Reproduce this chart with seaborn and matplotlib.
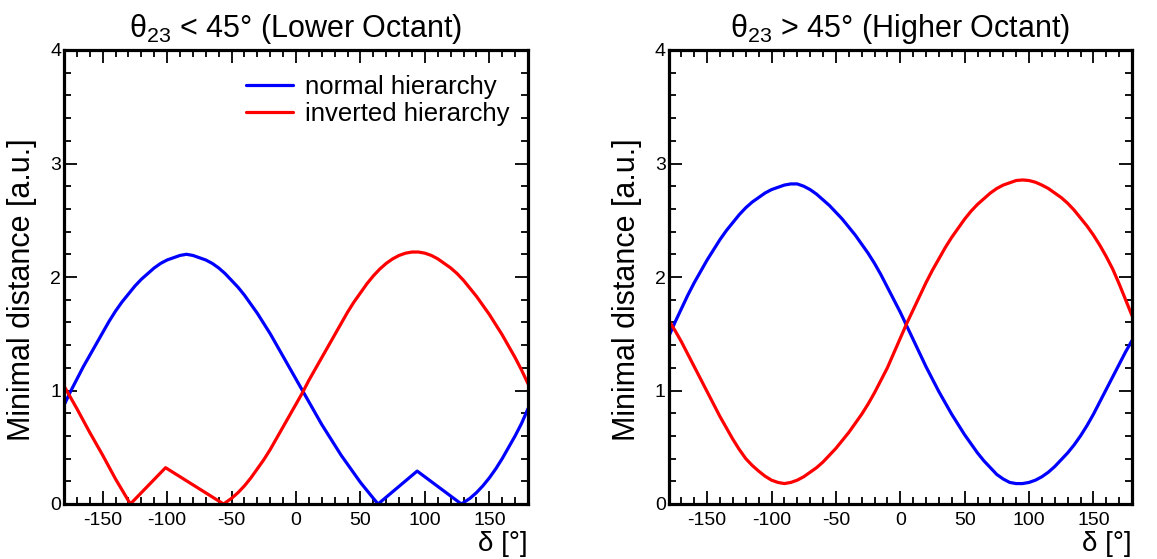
import matplotlib
matplotlib.use("Agg")
import matplotlib.pyplot as plt
from matplotlib.ticker import MultipleLocator
import pandas as pd
import seaborn as sns

# CP phase delta [deg] and minimal distance [a.u.], lower octant, normal hierarchy
lo_nh_delta = [-180, -175, -170, -165, -160, -155, -150, -145, -140, -135, -130, -125, -120,
               -115, -110, -105, -100, -95, -90, -85, -80, -75, -70, -65, -60, -55, -50, -45,
               -40, -35, -30, -25, -20, -15, -10, -5, 0, 5, 10, 15, 20, 25, 30, 35, 40, 45,
               50, 55, 60, 63.7, 94, 128.3, 135, 140, 145, 150, 155, 160, 165, 170, 175, 180]
lo_nh_dist = [0.87, 0.99, 1.10, 1.21, 1.31, 1.41, 1.51, 1.61, 1.70, 1.78, 1.85, 1.92, 1.98,
              2.03, 2.08, 2.12, 2.15, 2.17, 2.19, 2.20, 2.19, 2.17, 2.15, 2.12, 2.08, 2.03,
              1.97, 1.91, 1.84, 1.76, 1.68, 1.59, 1.50, 1.40, 1.30, 1.20, 1.10, 1.00, 0.90,
              0.80, 0.70, 0.61, 0.52, 0.43, 0.35, 0.27, 0.19, 0.12, 0.05, 0.0, 0.29, 0.0,
              0.05, 0.10, 0.16, 0.23, 0.31, 0.40, 0.50, 0.60, 0.71, 0.84]

# lower octant, inverted hierarchy
lo_ih_delta = [-180, -170, -160, -150, -140, -128.5, -101.2, -56.2, -50, -45, -40, -35, -30,
               -25, -20, -15, -10, -5, 0, 5, 10, 15, 20, 25, 30, 35, 40, 45, 50, 55, 60, 65,
               70, 75, 80, 85, 90, 95, 100, 105, 110, 115, 120, 125, 130, 135, 140, 145, 150,
               155, 160, 165, 170, 175, 180]
lo_ih_dist = [1.04, 0.84, 0.63, 0.43, 0.22, 0.0, 0.32, 0.0, 0.05, 0.10, 0.16, 0.23, 0.31,
              0.39, 0.48, 0.58, 0.68, 0.78, 0.88, 0.98, 1.09, 1.19, 1.29, 1.39, 1.49, 1.59,
              1.69, 1.78, 1.86, 1.94, 2.01, 2.07, 2.12, 2.16, 2.19, 2.21, 2.22, 2.22, 2.21,
              2.19, 2.16, 2.12, 2.08, 2.03, 1.97, 1.90, 1.83, 1.75, 1.67, 1.58, 1.49, 1.39,
              1.29, 1.18, 1.06]

# higher octant, both hierarchies on a common delta grid
hi_delta = [-180, -175, -170, -165, -160, -155, -150, -145, -140, -135, -130, -125, -120,
            -115, -110, -105, -100, -95, -90, -85, -80, -75, -70, -65, -60, -55, -50, -45,
            -40, -35, -30, -25, -20, -15, -10, -5, 0, 5, 10, 15, 20, 25, 30, 35, 40, 45, 50,
            55, 60, 65, 70, 75, 80, 85, 90, 95, 100, 105, 110, 115, 120, 125, 130, 135, 140,
            145, 150, 155, 160, 165, 170, 175, 180]
hi_nh_dist = [1.47, 1.60, 1.72, 1.84, 1.95, 2.05, 2.15, 2.24, 2.33, 2.41, 2.48, 2.55, 2.61,
              2.66, 2.70, 2.74, 2.77, 2.79, 2.81, 2.82, 2.82, 2.80, 2.77, 2.73, 2.68, 2.63,
              2.57, 2.51, 2.44, 2.37, 2.29, 2.21, 2.12, 2.02, 1.91, 1.80, 1.69, 1.57, 1.45,
              1.33, 1.21, 1.10, 0.99, 0.89, 0.79, 0.70, 0.61, 0.53, 0.45, 0.38, 0.32, 0.26,
              0.22, 0.19, 0.18, 0.18, 0.19, 0.21, 0.24, 0.28, 0.33, 0.39, 0.45, 0.52, 0.60,
              0.69, 0.79, 0.90, 1.01, 1.12, 1.23, 1.34, 1.44]
hi_ih_dist = [1.62, 1.53, 1.43, 1.32, 1.21, 1.10, 0.99, 0.88, 0.77, 0.67, 0.57, 0.48, 0.40,
              0.34, 0.29, 0.245, 0.21, 0.19, 0.18, 0.19, 0.21, 0.24, 0.28, 0.32, 0.37, 0.43,
              0.49, 0.56, 0.63, 0.71, 0.79, 0.88, 0.98, 1.09, 1.20, 1.33, 1.46, 1.59, 1.71,
              1.83, 1.95, 2.06, 2.16, 2.26, 2.35, 2.43, 2.51, 2.58, 2.64, 2.69, 2.74, 2.78,
              2.81, 2.83, 2.85, 2.855, 2.85, 2.835, 2.81, 2.78, 2.74, 2.70, 2.65, 2.59, 2.52,
              2.45, 2.37, 2.28, 2.18, 2.07, 1.94, 1.80, 1.66]

panel_titles = [r"θ$_{23}$ < 45° (Lower Octant)", r"θ$_{23}$ > 45° (Higher Octant)"]
series_labels = ["normal hierarchy", "inverted hierarchy"]
x_label = "δ [°]"
y_label = "Minimal distance [a.u.]"
x_ticks = [-150, -100, -50, 0, 50, 100, 150]
y_ticks = [0, 1, 2, 3, 4]

sns.set_style("ticks")
plt.rcParams["font.family"] = ["Liberation Sans", "DejaVu Sans"]
plt.rcParams["mathtext.fontset"] = "custom"
plt.rcParams["mathtext.rm"] = "Liberation Sans"
plt.rcParams["mathtext.it"] = "Liberation Sans"
plt.rcParams["axes.unicode_minus"] = False
plt.rcParams["text.color"] = "black"
plt.rcParams["axes.labelcolor"] = "black"
plt.rcParams["xtick.color"] = "black"
plt.rcParams["ytick.color"] = "black"

fig = plt.figure(figsize=(11.57, 5.59), dpi=100)
ax_lo = fig.add_axes([64 / 1157, 1 - 504 / 559, 464 / 1157, 454 / 559])
ax_hi = fig.add_axes([668.5 / 1157, 1 - 504 / 559, 463.5 / 1157, 454 / 559])

panels = [
    (ax_lo, (lo_nh_delta, lo_nh_dist), (lo_ih_delta, lo_ih_dist)),
    (ax_hi, (hi_delta, hi_nh_dist), (hi_delta, hi_ih_dist)),
]
colors = ["#0000ff", "#ff0000"]

for i, (ax, nh, ih) in enumerate(panels):
    for (xs, ys), color, label in zip([nh, ih], colors, series_labels):
        df = pd.DataFrame({"delta": xs, "dist": ys})
        sns.lineplot(data=df, x="delta", y="dist", ax=ax, color=color, lw=2.3,
                     sort=False, estimator=None, label=label if i == 0 else None)
    ax.set_xlim(-180, 180)
    ax.set_ylim(0, 4)
    ax.set_xticks(x_ticks)
    ax.set_yticks(y_ticks)
    ax.xaxis.set_minor_locator(MultipleLocator(10))
    ax.yaxis.set_minor_locator(MultipleLocator(0.2))
    ax.tick_params(which="both", direction="in", top=True, right=True,
                   color="black", labelcolor="black", labelsize=14)
    ax.tick_params(which="major", length=9.5, width=1.3)
    ax.tick_params(which="minor", length=4.8, width=1.3)
    ax.tick_params(axis="x", which="major", pad=6)
    ax.tick_params(axis="y", which="major", pad=2)
    for sp in ax.spines.values():
        sp.set_linewidth(2.3)
        sp.set_color("black")
    ax.set_title(panel_titles[i], fontsize=22, pad=9, color="black")
    ax.set_xlabel(x_label, fontsize=20, loc="right", labelpad=1, color="black")
    ax.set_ylabel(y_label, fontsize=22, color="black")
    ax.yaxis.set_label_coords(-0.058, 0.471)

leg = ax_lo.legend(loc="upper left", bbox_to_anchor=(0.392, 0.945), frameon=False,
                   fontsize=18.5, handlelength=1.85, handletextpad=0.45,
                   labelspacing=0.12, borderpad=0, borderaxespad=0, labelcolor="black")
for h in leg.get_lines():
    h.set_linewidth(2.3)

fig.savefig("out.png", dpi=100, facecolor="white")
